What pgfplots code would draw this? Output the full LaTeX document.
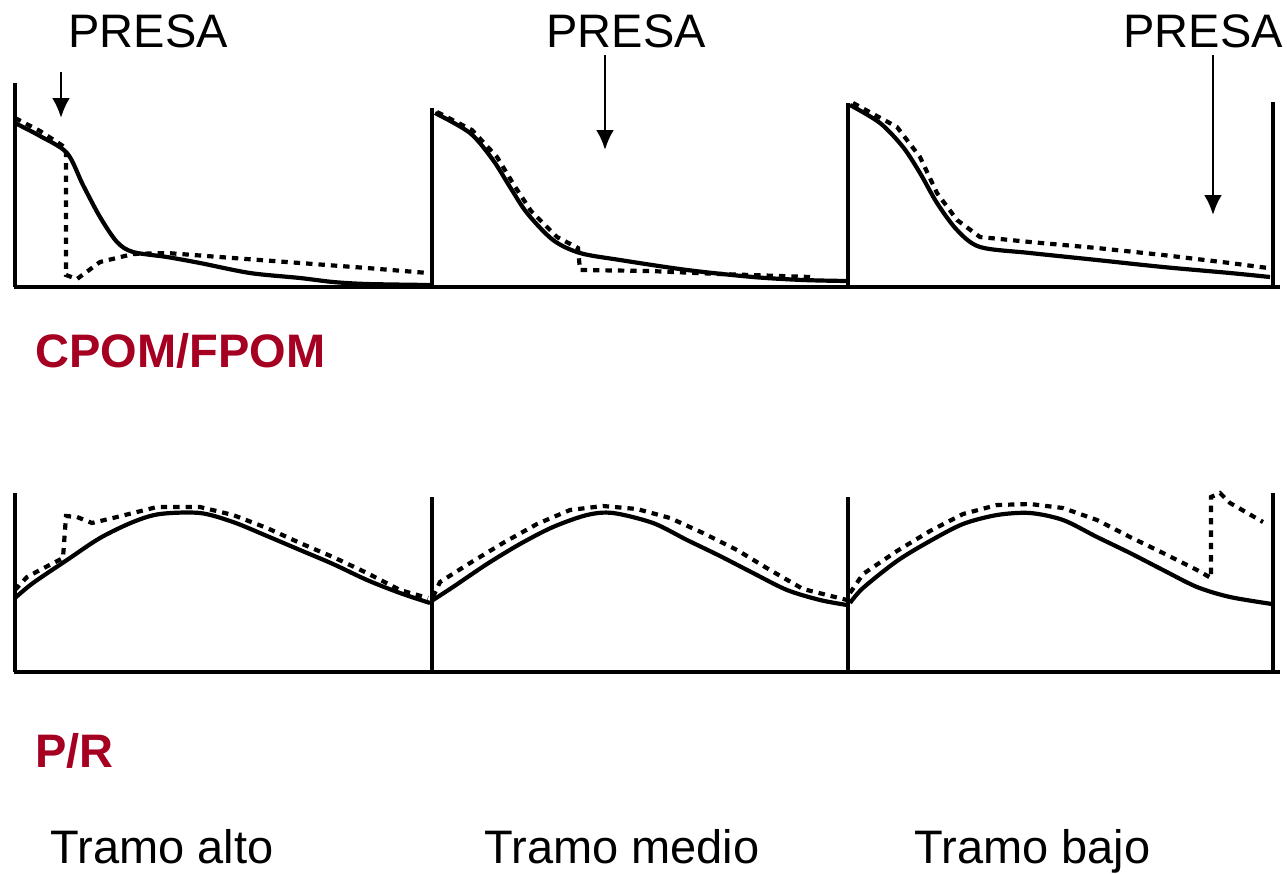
\documentclass[border=0pt]{standalone}
\usepackage{pgfplots}
\pgfplotsset{compat=1.18}
\usetikzlibrary{arrows.meta}
\usepackage{fontspec}
\setmainfont{Liberation Sans}
\definecolor{darkred}{RGB}{165,0,33}
\tikzset{arr/.style={-{Latex[length=10pt,width=9pt]}, line width=1.4pt}}
\begin{document}
\begin{tikzpicture}[x=1pt,y=1pt]
\begin{axis}[width=643.5pt, height=437pt, scale only axis,
  xmin=0, xmax=1287, ymin=0, ymax=874, y dir=reverse,
  hide axis, clip=false,
  solid line/.style={black, line width=2.1pt, smooth, tension=0.5},
  dash line/.style={black, line width=2.1pt, dash pattern=on 3.2pt off 3pt},
  frame line/.style={black, line width=2pt}]
% ---------- top panel frame ----------
\addplot[frame line] coordinates {(14,287) (1280,287)};
\addplot[frame line] coordinates {(15,83) (15,287)};
\addplot[frame line] coordinates {(432,108) (432,287)};
\addplot[frame line] coordinates {(848,103) (848,287)};
\addplot[frame line] coordinates {(1273,102) (1273,287)};
% ---------- top panel: solid ----------
\addplot[solid line] coordinates {(15,123) (40,136) (67,153) (83,185) (100,217) (117,242) (133,252) (167,257) (200,263) (250,273) (300,278) (333,282) (367,284) (430,285)};
\addplot[solid line] coordinates {(435,113) (470,133) (493,160) (510,187) (527,213) (553,240) (580,253) (620,260) (687,270) (753,277) (803,280) (847,281)};
\addplot[solid line] coordinates {(850,105) (880,123) (903,147) (920,173) (937,203) (957,230) (980,247) (1030,253) (1097,260) (1163,267) (1230,273) (1270,277)};
% ---------- top panel: dashed ----------
\addplot[dash line] coordinates {(15,118) (40,131) (66,148) (66,275) (77,279) (100,262) (133,254) (167,253) (233,258) (300,263) (367,268) (428,273)};
\addplot[dash line] coordinates {(437,112) (472,130) (497,157) (514,185) (531,211) (557,237) (578,248) (580,270) (650,271) (720,274) (810,277)};
\addplot[dash line] coordinates {(853,103) (897,127) (920,157) (937,193) (957,220) (980,237) (1030,242) (1097,248) (1163,255) (1230,263) (1268,268)};
% ---------- bottom panel frame ----------
\addplot[frame line] coordinates {(14,672) (1280,672)};
\addplot[frame line] coordinates {(15,493) (15,672)};
\addplot[frame line] coordinates {(432,497) (432,672)};
\addplot[frame line] coordinates {(848,497) (848,672)};
\addplot[frame line] coordinates {(1273,493) (1273,672)};
% ---------- bottom panel: solid ----------
\addplot[solid line] coordinates {(15,598) (33,583) (67,560) (100,538) (133,522) (160,514) (200,513) (233,522) (267,536) (300,550) (333,564) (367,580) (400,593) (430,603)};
\addplot[solid line] coordinates {(433,600) (453,587) (487,564) (520,544) (553,527) (587,515) (613,513) (653,523) (687,540) (720,556) (753,573) (787,590) (820,600) (847,605)};
\addplot[solid line] coordinates {(850,603) (863,588) (897,561) (930,541) (963,524) (997,515) (1030,513) (1063,520) (1097,537) (1130,553) (1163,570) (1197,587) (1230,597) (1272,604)};
% ---------- bottom panel: dashed ----------
\addplot[dash line] coordinates {(15,590) (27,577) (40,570) (63,558) (66,516) (77,517) (92,523) (117,517) (157,507) (200,507) (233,515) (267,528) (300,543) (333,557) (367,573) (400,590) (428,598)};
\addplot[dash line] coordinates {(433,597) (440,582) (470,563) (503,543) (537,524) (570,510) (603,506) (637,509) (670,518) (703,533) (737,550) (770,570) (803,589) (847,600)};
\addplot[dash line] coordinates {(850,593) (863,574) (897,551) (930,531) (963,514) (997,505) (1030,504) (1063,508) (1097,520) (1130,537) (1163,553) (1197,570) (1211,578) (1211,497) (1220,493) (1230,503) (1263,522)};
% ---------- arrows ----------
\draw[arr] (axis cs:61,72) -- (axis cs:61,118);
\draw[arr] (axis cs:605,55) -- (axis cs:605,150);
\draw[arr] (axis cs:1213,55) -- (axis cs:1213,215);
% ---------- texts ----------
\node[anchor=base west, inner sep=0pt, font=\fontsize{23.5}{28}\selectfont] at (axis cs:68,47) {PRESA};
\node[anchor=base west, inner sep=0pt, font=\fontsize{23.5}{28}\selectfont] at (axis cs:546,47) {PRESA};
\node[anchor=base west, inner sep=0pt, font=\fontsize{23.5}{28}\selectfont] at (axis cs:1123,47) {PRESA};
\node[anchor=base west, inner sep=0pt, font=\fontsize{23.5}{28}\selectfont\bfseries, text=darkred] at (axis cs:35,367) {CPOM/FPOM};
\node[anchor=base west, inner sep=0pt, font=\fontsize{23.5}{28}\selectfont\bfseries, text=darkred] at (axis cs:35,767) {P/R};
\node[anchor=base west, inner sep=0pt, font=\fontsize{23.5}{28}\selectfont] at (axis cs:50,863) {Tramo alto};
\node[anchor=base west, inner sep=0pt, font=\fontsize{23.5}{28}\selectfont] at (axis cs:484,863) {Tramo medio};
\node[anchor=base west, inner sep=0pt, font=\fontsize{23.5}{28}\selectfont] at (axis cs:914,863) {Tramo bajo};
\path (axis cs:0,0) (axis cs:1287,874);
\end{axis}
\end{tikzpicture}
\end{document}
